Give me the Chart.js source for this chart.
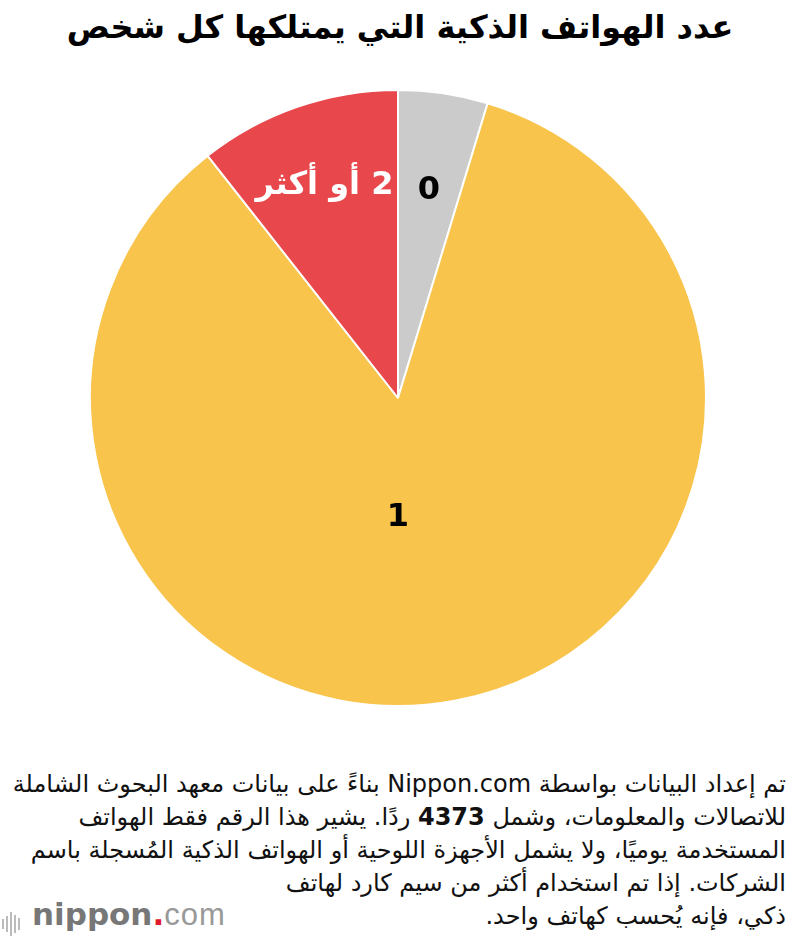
<!DOCTYPE html>
<html>
<head>
<meta charset="utf-8">
<script src="https://cdn.jsdelivr.net/npm/chart.js@4"></script>
<style>
  body { margin: 0; width: 800px; height: 940px; background: #fff; position: relative; overflow: hidden; font-family: "DejaVu Sans", sans-serif; }
  #title { position: absolute; top: 8px; left: 0; width: 800px; text-align: center; font-weight: bold; font-size: 32px; color: #000; direction: rtl; }
  #wrap { position: absolute; left: 89px; top: 89px; width: 618px; height: 618px; }
  #note { position: absolute; right: 14px; top: 768px; width: 795px; direction: rtl; text-align: right; font-size: 24px; line-height: 33px; color: #111; }
  #logo { position: absolute; left: 2px; top: 896px; height: 40px; font-size: 31px; color: #888; white-space: nowrap; }
  #logo .bars { display: inline-block; vertical-align: middle; margin-right: 10px; height: 26px; }
  #logo .bars i { display: inline-block; width: 2px; background: #bbb; margin-right: 2px; vertical-align: middle; }
  #logo b { color: #777; font-weight: bold; }
  #logo .dot { color: #e01a2b; font-weight: bold; }
  #logo .com { font-family: "Liberation Sans", sans-serif; font-weight: normal; color: #999; letter-spacing: 1px; }
</style>
</head>
<body>
<div id="title">عدد الهواتف الذكية التي يمتلكها كل شخص</div>
<div id="wrap"><canvas id="pie"></canvas></div>
<div id="note">تم إعداد البيانات بواسطة Nippon.com بناءً على بيانات معهد البحوث الشاملة<br>للاتصالات والمعلومات، وشمل <b>4373</b> ردًا. يشير هذا الرقم فقط الهواتف<br>المستخدمة يوميًا، ولا يشمل الأجهزة اللوحية أو الهواتف الذكية المُسجلة باسم<br>الشركات. إذا تم استخدام أكثر من سيم كارد لهاتف<br>ذكي، فإنه يُحسب كهاتف واحد.</div>
<div id="logo"><span class="bars"><i style="height:10px"></i><i style="height:16px"></i><i style="height:24px"></i><i style="height:18px"></i><i style="height:12px"></i></span><b>nippon</b><span class="dot">.</span><span class="com">com</span></div>
<script>
var categories = ["0", "1", "2 أو أكثر"];
var values = [4.7, 84.7, 10.6];
var colors = ["#cbcbcb", "#f8c44c", "#e8474b"];
var labelColors = ["#000000", "#000000", "#ffffff"];
// distance of each label from the centre, as a share of the radius
var labelRadius = [0.68, 0.39, 0.73];
// null = middle of the slice
var labelAngle = [null, Math.PI / 2, null];

var sliceLabels = {
	id: 'sliceLabels',
	afterDatasetsDraw: function(chart) {
		var ctx = chart.ctx;
		var arcs = chart.getDatasetMeta(0).data;
		ctx.save();
		ctx.font = 'bold 32px "DejaVu Sans", sans-serif';
		ctx.direction = 'rtl';
		ctx.textAlign = 'center';
		ctx.textBaseline = 'middle';
		arcs.forEach(function(arc, i) {
			var p = arc.getProps(['x', 'y', 'startAngle', 'endAngle', 'outerRadius'], true);
			var a = labelAngle[i] !== null ? labelAngle[i] : (p.startAngle + p.endAngle) / 2;
			var r = p.outerRadius * labelRadius[i];
			ctx.fillStyle = labelColors[i];
			ctx.fillText(categories[i], p.x + Math.cos(a) * r, p.y + Math.sin(a) * r);
		});
		ctx.restore();
	}
};

var config = {
	type: 'pie',
	data: {
		labels: categories,
		datasets: [{
			data: values,
			backgroundColor: colors,
			borderColor: "#ffffff",
			borderWidth: 2
		}]
	},
	options: {
		responsive: true,
		maintainAspectRatio: false,
		animation: false,
		layout: { padding: 0 },
		plugins: {
			legend: { display: false },
			tooltip: { enabled: false }
		}
	},
	plugins: [sliceLabels]
};

var ctx = document.getElementById("pie").getContext("2d");
window.myPie = new Chart(ctx, config);
</script>
</body>
</html>
